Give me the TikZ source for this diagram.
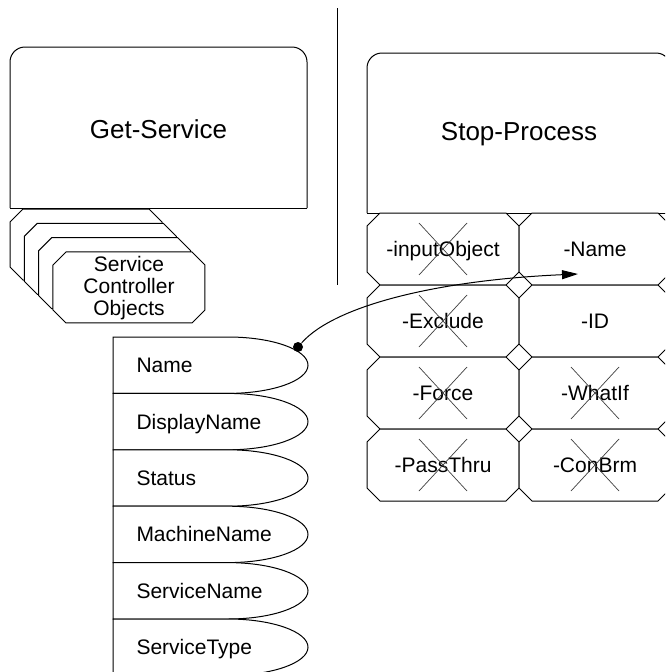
\documentclass[tikz,border=0pt]{standalone}
\usepackage{fontspec}
\setmainfont{Liberation Sans}
\usetikzlibrary{arrows.meta}

% octagon with cut corners: x1 y1 x2 y2
\newcommand{\octo}[4]{%
  \draw[fill=white] ({#1+13},{#2}) -- ({#3-13},{#2}) -- ({#3},{#2+13}) -- ({#3},{#4-13})
    -- ({#3-13},{#4}) -- ({#1+13},{#4}) -- ({#1},{#4-13}) -- ({#1},{#2+13}) -- cycle;}

\tikzset{
  txt/.style = {font=\fontsize{21}{22.2}\selectfont, inner sep=0pt},
  headtxt/.style = {font=\fontsize{26}{28}\selectfont, inner sep=0pt},
  crossline/.style = {line width=0.7pt, black!75},
  dotmark/.style = {circle, fill, inner sep=0pt, minimum size=10pt},
}

\begin{document}
\begin{tikzpicture}[x=1pt, y=-1pt, line width=1pt]
	\useasboundingbox (0,0) rectangle (665,672);
	\clip (0,0) rectangle (665,672);

	%	divider
	\draw (337,8) -- (337,285);

	%	Get-Service
	\draw[rounded corners=15pt] (10,208) -- (10,47) -- (307,47) -- (307,208);
	\draw (10,208) -- (307,208);
	\node[headtxt, anchor=base] (getsvc) at (158.5,138.3) {Get-Service};

	%	stacked objects
	\foreach \k in {0,...,3}{
		\pgfmathsetmacro\o{14.33*\k}
		\octo{10+\o}{209+\o}{162+\o}{280+\o}
	}
	\node[txt, align=center] (svcobj) at (129,288) {Service\\Controller\\Objects};

	%	Stop-Process
	\draw[rounded corners=15pt] (367,213) -- (367,53) -- (671,53) -- (671,213);
	\draw (367,213) -- (671,213);
	\node[headtxt, anchor=base] (stopproc) at (519,140) {Stop-Process};

	%	parameters
	\foreach \col/\row/\nm/\label/\crossed in {
		0/0/pinput/-inputObject/1, 1/0/pname/-Name/0,
		0/1/pexclude/-Exclude/1, 1/1/pid/-ID/0,
		0/2/pforce/-Force/1, 1/2/pwhatif/-WhatIf/1,
		0/3/ppassthru/-PassThru/1, 1/3/pconfirm/-ConBrm/1}{
		\pgfmathsetmacro\xa{367+152*\col}
		\pgfmathsetmacro\ya{213+72*\row}
		\pgfmathsetmacro\cx{\xa+76}
		\pgfmathsetmacro\cy{\ya+36}
		\octo{\xa}{\ya}{\xa+152}{\ya+72}
		\node[txt, anchor=base] (\nm) at (\cx,\cy+7.5) {\label};
		\ifnum\crossed=1
			\draw[crossline] (\cx-24,\cy-26) -- (\cx+24,\cy+26);
			\draw[crossline] (\cx+24,\cy-26) -- (\cx-24,\cy+26);
		\fi
	}

	%	properties
	\foreach \i/\nm/\label in {0/prname/Name, 1/prdisp/DisplayName, 2/prstatus/Status,
		3/prmachine/MachineName, 4/prsvcname/ServiceName, 5/prsvctype/ServiceType}{
		\pgfmathsetmacro\t{337+56.4*\i}
		\draw[fill=white] (113,\t) -- (228,\t)
			arc[start angle=90, end angle=-90, x radius=80pt, y radius=28.2pt]
			-- (113,\t+56.4) -- cycle;
		\node[txt, anchor=base west] (\nm) at (136,\t+35.7) {\label};
	}

	%	connector
	\node[dotmark] (dot) at (298,347) {};
	\coordinate (tip) at (578,274);
	\draw[-{Triangle[length=16pt, width=9pt]}] (dot) .. controls (335,305) and (440,280) .. (tip);
\end{tikzpicture}
\end{document}
